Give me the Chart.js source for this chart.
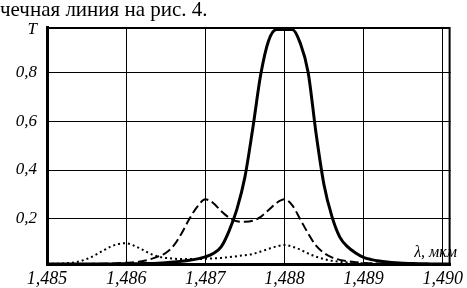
<!DOCTYPE html>
<html>
<head>
<meta charset="utf-8">
<script src="https://cdn.jsdelivr.net/npm/chart.js@4.4.1/dist/chart.umd.min.js"></script>
<style>
  html, body { margin: 0; padding: 0; background: #fff; }
  canvas { display: block; }
</style>
</head>
<body>
<canvas id="myChart" width="467" height="288"></canvas>
<script>
// wavelength, um
const lambda = [
  1.4850, 1.4851, 1.4852, 1.4853, 1.4854, 1.4855, 1.4856, 1.4857, 1.4858, 1.4859,
  1.4860, 1.4861, 1.4862, 1.4863, 1.4864, 1.4865, 1.4866, 1.4867, 1.4868, 1.4869,
  1.4870, 1.4871, 1.4872, 1.4873, 1.4874, 1.4875, 1.4876, 1.4877, 1.4878, 1.4879,
  1.4880, 1.4881, 1.4882, 1.4883, 1.4884, 1.4885, 1.4886, 1.4887, 1.4888, 1.4889,
  1.4890, 1.4891, 1.4892, 1.4893, 1.4894, 1.4895, 1.4896, 1.4897, 1.4898, 1.4899,
  1.4900, 1.4901
];

// solid curve
const solidT = [
  0.015, 0.015, 0.015, 0.015, 0.015, 0.015, 0.015, 0.015, 0.015, 0.016,
  0.016, 0.016, 0.017, 0.017, 0.018, 0.020, 0.023, 0.026, 0.030, 0.036,
  0.044, 0.058, 0.085, 0.150, 0.240, 0.370, 0.570, 0.790, 0.930, 0.976,
  0.976, 0.976, 0.920, 0.800, 0.550, 0.340, 0.210, 0.125, 0.085, 0.060,
  0.042, 0.033, 0.027, 0.023, 0.020, 0.018, 0.017, 0.016, 0.016, 0.015,
  0.015, 0.015
];

// dashed curve
const dashedT = [
  0.015, 0.015, 0.015, 0.015, 0.015, 0.015, 0.016, 0.016, 0.017, 0.018,
  0.020, 0.022, 0.026, 0.034, 0.045, 0.060, 0.090, 0.140, 0.200, 0.250,
  0.280, 0.265, 0.232, 0.205, 0.190, 0.188, 0.192, 0.208, 0.236, 0.265,
  0.280, 0.255, 0.198, 0.140, 0.090, 0.060, 0.042, 0.032, 0.026, 0.022,
  0.019, 0.018, 0.017, 0.016, 0.015, 0.015, 0.015, 0.015, 0.015, 0.015,
  0.015, 0.015
];

// dotted curve
const dottedT = [
  0.015, 0.016, 0.017, 0.020, 0.025, 0.035, 0.050, 0.068, 0.085, 0.097,
  0.100, 0.090, 0.075, 0.058, 0.046, 0.040, 0.037, 0.035, 0.035, 0.035,
  0.036, 0.038, 0.040, 0.043, 0.047, 0.051, 0.056, 0.066, 0.077, 0.087,
  0.093, 0.086, 0.074, 0.058, 0.045, 0.035, 0.028, 0.024, 0.021, 0.019,
  0.018, 0.017, 0.016, 0.016, 0.015, 0.015, 0.015, 0.015, 0.015, 0.015,
  0.015, 0.015
];

const xTicks = [1.485, 1.486, 1.487, 1.488, 1.489, 1.490];
const xTickLabels = ['1,485', '1,486', '1,487', '1,488', '1,489', '1,490'];
const yTicks = [0.2, 0.4, 0.6, 0.8, 0.975];
const yTickLabels = ['0,2', '0,4', '0,6', '0,8', 'T'];

function pts(arr) {
  return lambda.map((l, i) => ({ x: l, y: arr[i] }));
}

// caption, axis name and top/right frame
const extras = {
  id: 'extras',
  afterDraw(chart) {
    const ctx = chart.ctx;
    const a = chart.chartArea;
    ctx.save();
    ctx.strokeStyle = '#000';
    ctx.lineWidth = 2;
    ctx.beginPath();
    ctx.moveTo(a.left, a.top + 1);
    ctx.lineTo(a.right - 1, a.top + 1);
    ctx.lineTo(a.right - 1, a.bottom);
    ctx.stroke();

    ctx.fillStyle = '#000';
    ctx.font = '21px "Liberation Serif"';
    ctx.textAlign = 'left';
    ctx.textBaseline = 'alphabetic';
    ctx.fillText('чечная линия на рис. 4.', 0, 16);

    ctx.font = 'italic 16px "Liberation Serif"';
    ctx.textAlign = 'right';
    ctx.fillText('λ, мкм', 457, 257);
    ctx.restore();
  }
};

const ctx = document.getElementById('myChart').getContext('2d');
const chart = new Chart(ctx, {
  type: 'line',
  data: {
    datasets: [
      {
        data: pts(solidT),
        borderColor: '#000',
        borderWidth: 3,
        pointRadius: 0,
        cubicInterpolationMode: 'monotone'
      },
      {
        data: pts(dashedT),
        borderColor: '#000',
        borderWidth: 2,
        borderDash: [9, 4],
        pointRadius: 0,
        cubicInterpolationMode: 'monotone'
      },
      {
        data: pts(dottedT),
        borderColor: '#000',
        borderWidth: 2,
        borderDash: [2, 3],
        pointRadius: 0,
        cubicInterpolationMode: 'monotone'
      }
    ]
  },
  options: {
    responsive: false,
    animation: false,
    devicePixelRatio: 1,
    layout: { padding: { top: 27, right: 3, left: 0, bottom: 0 } },
    plugins: { legend: { display: false }, tooltip: { enabled: false } },
    scales: {
      x: {
        type: 'linear',
        min: 1.485,
        max: 1.4901,
        afterBuildTicks: s => { s.ticks = xTicks.map(v => ({ value: v })); },
        afterFit: s => { s.height = 24; },
        grid: { color: '#000', lineWidth: 1, drawTicks: false },
        border: { color: '#000', width: 3 },
        ticks: {
          color: '#000',
          padding: 4,
          maxRotation: 0,
          autoSkip: false,
          font: { family: 'Liberation Serif', style: 'italic', size: 18 },
          callback: (v, i) => xTickLabels[i]
        }
      },
      y: {
        min: 0.015,
        max: 0.986,
        afterBuildTicks: s => { s.ticks = yTicks.map(v => ({ value: v })); },
        afterFit: s => { s.width = 47; },
        grid: {
          color: c => (c.index === yTicks.length - 1 ? 'rgba(0,0,0,0)' : '#000'),
          lineWidth: 1,
          drawTicks: false
        },
        border: { color: '#000', width: 3 },
        ticks: {
          color: '#000',
          padding: 10,
          autoSkip: false,
          font: { family: 'Liberation Serif', style: 'italic', size: 17 },
          callback: (v, i) => yTickLabels[i]
        }
      }
    }
  },
  plugins: [extras]
});
</script>
</body>
</html>
